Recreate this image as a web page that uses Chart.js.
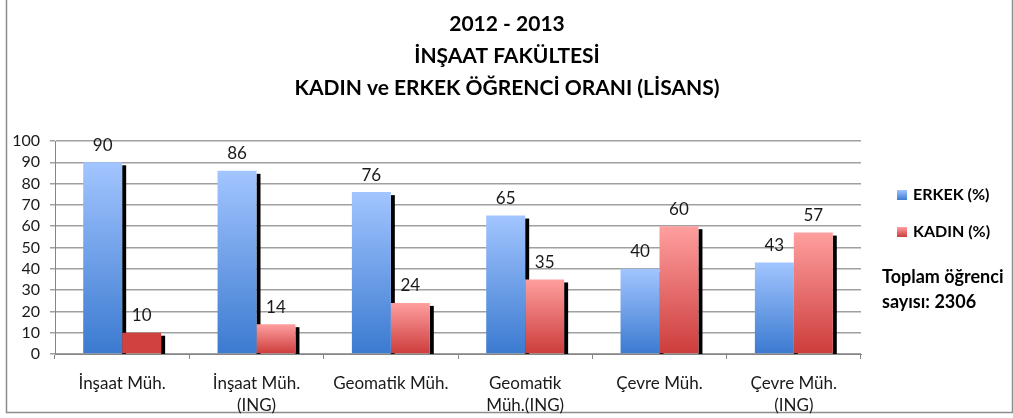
<!DOCTYPE html>
<html>
<head>
<meta charset="utf-8">
<script src="https://cdn.jsdelivr.net/npm/chart.js@4"></script>
<style>
  html, body { margin: 0; padding: 0; background: #fff; }
  #wrap { width: 1013px; height: 418px; }
</style>
</head>
<body>
<div id="wrap"><canvas id="myBarChart" width="1013" height="418"></canvas></div>
<script>
// Chart data
const categories = [
  "İnşaat Müh.",
  ["İnşaat Müh.", "(ING)"],
  "Geomatik Müh.",
  ["Geomatik", "Müh.(ING)"],
  "Çevre Müh.",
  ["Çevre Müh.", "(ING)"],
];
const erkekValues = [90, 86, 76, 65, 40, 43];
const kadinValues = [10, 14, 24, 35, 60, 57];
const seriesLabels = ["ERKEK (%)", "KADIN (%)"];
const yTicks = [0, 10, 20, 30, 40, 50, 60, 70, 80, 90, 100];
const titleLines = ["2012 - 2013", "İNŞAAT FAKÜLTESİ", "KADIN ve ERKEK ÖĞRENCİ ORANI (LİSANS)"];
const noteLines = ["Toplam öğrenci", "sayısı: 2306"];

const FONT = "Lato, 'Liberation Sans', sans-serif";
const blueStops = ["#A2C5FF", "#3B7AD0"];
const redStops = ["#FF9F9F", "#CC3C3B"];
const flatRed = "#D0413F"; // first KADIN bar is drawn flat in the original

// Vertical gradient for each bar, light at the top, dark at the base
function barFill(stops, flatIndex) {
  return function (context) {
    const chart = context.chart;
    const yScale = chart.scales.y;
    if (!yScale || context.type !== "data") return stops[1];
    if (context.dataIndex === flatIndex) return flatRed;
    const top = yScale.getPixelForValue(context.raw);
    const base = yScale.getPixelForValue(0);
    if (!isFinite(top) || !isFinite(base) || top === base) return stops[1];
    const g = chart.ctx.createLinearGradient(0, top, 0, base);
    g.addColorStop(0, stops[0]);
    g.addColorStop(1, stops[1]);
    return g;
  };
}

// Black drop shadow to the right of every bar
const barShadow = {
  id: "barShadow",
  beforeDatasetsDraw(chart) {
    const { ctx } = chart;
    const base = chart.scales.y.getPixelForValue(0);
    ctx.save();
    ctx.fillStyle = "#000";
    chart.data.datasets.forEach((ds, i) => {
      chart.getDatasetMeta(i).data.forEach((bar) => {
        const right = bar.x + bar.width / 2;
        ctx.fillRect(right, bar.y + 3, 4, base - bar.y - 3);
      });
    });
    ctx.restore();
  },
};

// Value labels above the bars
const valueLabels = {
  id: "valueLabels",
  afterDatasetsDraw(chart) {
    const { ctx } = chart;
    ctx.save();
    ctx.font = "17px " + FONT;
    ctx.fillStyle = "#1a1a1a";
    ctx.textAlign = "center";
    ctx.textBaseline = "middle";
    chart.data.datasets.forEach((ds, i) => {
      chart.getDatasetMeta(i).data.forEach((bar, j) => {
        ctx.fillText(String(ds.data[j]), bar.x, bar.y - 17);
      });
    });
    ctx.restore();
  },
};

// Title, legend, note and frame
const decorations = {
  id: "decorations",
  beforeDraw(chart) {
    const { ctx } = chart;
    ctx.save();
    ctx.fillStyle = "#fff";
    ctx.fillRect(0, 0, chart.width, chart.height);
    ctx.strokeStyle = "#8c8c8c";
    ctx.lineWidth = 1.5;
    ctx.strokeRect(6.5, -5, 1006, 417.5);
    ctx.restore();
  },
  afterDraw(chart) {
    const { ctx } = chart;
    ctx.save();
    ctx.fillStyle = "#000";
    ctx.textBaseline = "middle";

    // title
    ctx.textAlign = "center";
    ctx.font = "bold 21px " + FONT;
    titleLines.forEach((t, i) => ctx.fillText(t, 507, 24 + i * 32));

    // legend
    ctx.textAlign = "left";
    ctx.font = "bold 16px " + FONT;
    const legendY = [195, 232];
    chart.data.datasets.forEach((ds, i) => {
      const y = legendY[i];
      const stops = i === 0 ? blueStops : redStops;
      const g = ctx.createLinearGradient(0, y - 5, 0, y + 5);
      g.addColorStop(0, stops[0]);
      g.addColorStop(1, stops[1]);
      ctx.fillStyle = g;
      ctx.fillRect(897, y - 5, 10, 10);
      ctx.fillStyle = "#000";
      ctx.fillText(ds.label, 913, y);
    });

    // total students note
    ctx.font = "bold 18px " + FONT;
    noteLines.forEach((t, i) => ctx.fillText(t, 882, 277 + i * 25));
    ctx.restore();
  },
};

const ctx = document.getElementById("myBarChart").getContext("2d");

const myBarChart = new Chart(ctx, {
  type: "bar",
  data: {
    labels: categories,
    datasets: [
      {
        label: seriesLabels[0],
        data: erkekValues,
        backgroundColor: barFill(blueStops, -1),
        borderWidth: 0,
        categoryPercentage: 0.58,
        barPercentage: 1,
      },
      {
        label: seriesLabels[1],
        data: kadinValues,
        backgroundColor: barFill(redStops, 0),
        borderWidth: 0,
        categoryPercentage: 0.58,
        barPercentage: 1,
      },
    ],
  },
  options: {
    responsive: false,
    animation: false,
    layout: {
      padding: { left: 7, right: 152, top: 141, bottom: 0 },
    },
    plugins: {
      legend: { display: false },
      title: { display: false },
      tooltip: { enabled: false },
    },
    scales: {
      x: {
        afterFit: (scale) => { scale.height = 64; },
        border: { color: "#868686", width: 1 },
        grid: {
          offset: true,
          drawOnChartArea: false,
          tickLength: 5,
          color: "#868686",
        },
        ticks: {
          padding: 13,
          color: "#1a1a1a",
          font: { family: FONT, size: 17, lineHeight: 1.3 },
          maxRotation: 0,
          autoSkip: false,
        },
      },
      y: {
        min: 0,
        max: 100,
        afterFit: (scale) => { scale.width = 48; },
        afterBuildTicks: (scale) => { scale.ticks = yTicks.map((v) => ({ value: v })); },
        border: { color: "#868686", width: 1 },
        grid: {
          color: "#a0a0a0",
          lineWidth: 1.5,
          tickLength: 5,
        },
        ticks: {
          padding: 10,
          autoSkip: false,
          color: "#1a1a1a",
          font: { family: FONT, size: 16 },
        },
      },
    },
  },
  plugins: [decorations, barShadow, valueLabels],
});
</script>
</body>
</html>
